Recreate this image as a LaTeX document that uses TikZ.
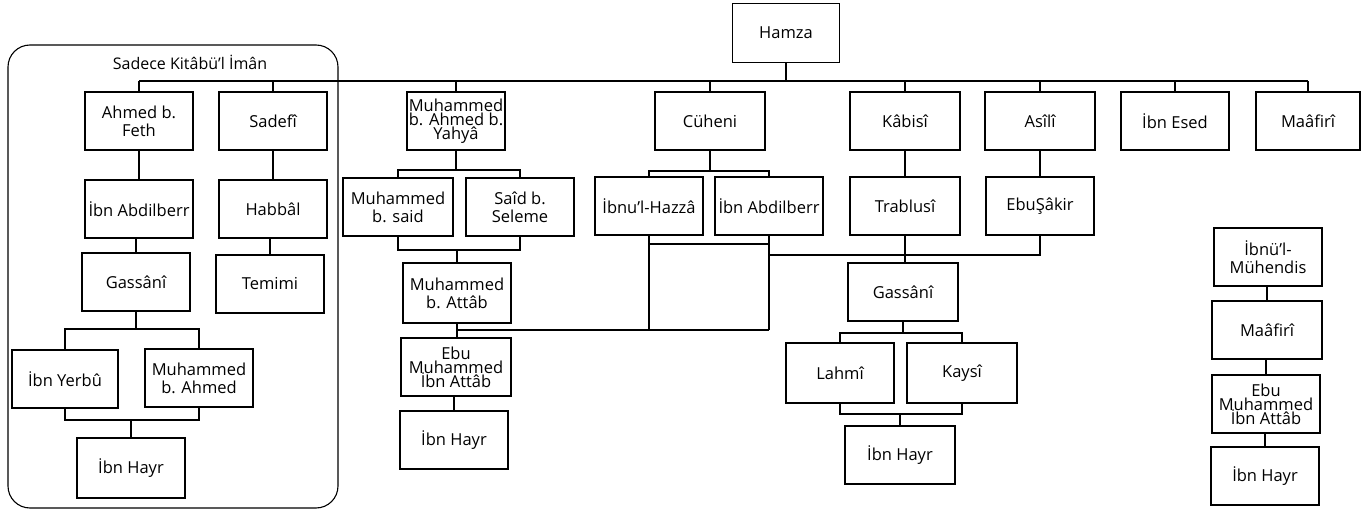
\documentclass[tikz,border=0pt]{standalone}
\usepackage{fontspec}
\setmainfont{Open Sans}
\usetikzlibrary{fit}
\begin{document}
\begin{tikzpicture}[x=1pt,y=-1pt,
  box/.style={draw,line width=1.1pt,minimum width=108pt,minimum height=58pt,inner sep=1pt,align=center,font=\fontsize{16.5}{18}\selectfont},
  ln/.style={line width=1.1pt}]
\useasboundingbox (0,0) rectangle (1363,513);
% container
\node[draw,line width=1.1pt,rounded corners=22pt,fit={(8,45) (338,508)},inner sep=0pt] (grp) {};
\node[font=\fontsize{16}{18}\selectfont] (title) at (190,62) {Sadece Kitâbü'l İmân};
% nodes
\node[box,minimum width=107pt,minimum height=59pt] (hamza) at (786,33) {Hamza};
\node[box] (feth) at (139,121) {Ahmed b.\\Feth};
\node[box] (sadefi) at (273,121) {Sadefî};
\node[box,minimum width=98pt] (yahya) at (456,121) {Muhammed\\[-4pt]b. Ahmed b.\\[-4pt]Yahyâ};
\node[box,minimum width=110pt] (cuheni) at (710,121) {Cüheni};
\node[box,minimum width=110pt] (kabisi) at (905,121) {Kâbisî};
\node[box,minimum width=110pt] (asili) at (1040,121) {Asîlî};
\node[box] (esed) at (1175,121) {İbn Esed};
\node[box,minimum width=104pt] (maafiri) at (1308,121) {Maâfirî};
\node[box] (abd1) at (139,209) {İbn Abdilberr};
\node[box] (habbal) at (273,209) {Habbâl};
\node[box] (gassani1) at (136,282) {Gassânî};
\node[box] (temimi) at (270,284) {Temimi};
\node[box,minimum width=106pt] (yerbu) at (65,379) {İbn Yerbû};
\node[box] (mba) at (199,378) {Muhammed\\b. Ahmed};
\node[box,minimum height=60pt] (hayr1) at (131,468) {İbn Hayr};
\node[box,minimum width=110pt] (msaid) at (398,207) {Muhammed\\b. said};
\node[box] (saeed) at (520,207) {Saîd b.\\Seleme};
\node[box,minimum height=60pt] (attab) at (457,293) {Muhammed\\b. Attâb};
\node[box,minimum width=110pt] (ebu1) at (456,367) {Ebu\\[-4pt]Muhammed\\[-4pt]İbn Attâb};
\node[box] (hayr2) at (454,440) {İbn Hayr};
\node[box] (hazza) at (649,206) {İbnu'l-Hazzâ};
\node[box] (abd2) at (769,206) {İbn Abdilberr};
\node[box,minimum width=110pt] (trablusi) at (905,206) {Trablusî};
\node[box] (sakir) at (1040,206) {EbuŞâkir};
\node[box,minimum width=110pt] (gassani2) at (903,292) {Gassânî};
\node[box,minimum height=60pt] (lahmi) at (840,373) {Lahmî};
\node[box,minimum width=110pt,minimum height=60pt] (kaysi) at (962,373) {Kaysî};
\node[box,minimum width=110pt] (hayr3) at (900,455) {İbn Hayr};
\node[box] (muhendis) at (1268,257) {İbnü'l-\\Mühendis};
\node[box,minimum width=110pt] (maafiri2) at (1267,330) {Maâfirî};
\node[box] (ebu2) at (1266,404) {Ebu\\[-4pt]Muhammed\\[-4pt]İbn Attâb};
\node[box] (hayr4) at (1265,476) {İbn Hayr};
% helper levels
\coordinate (bar) at (0,81);
\coordinate (f1) at (0,329);
\coordinate (j1) at (0,420);
\coordinate (f2) at (0,170);
\coordinate (j2) at (0,250);
\coordinate (link) at (0,330);
\coordinate (f3) at (0,171);
\coordinate (j3) at (0,244);
\coordinate (j4) at (0,255);
\coordinate (f4) at (0,333);
\coordinate (j5) at (0,414);
% main bar
\draw[ln] (hamza.south) -- (hamza.south |- bar);
\draw[ln] (feth.north |- bar) -- (maafiri.north |- bar);
\foreach \n in {feth,sadefi,yahya,cuheni,kabisi,asili,esed,maafiri}
  \draw[ln] (\n.north) -- (\n.north |- bar);
% left group
\draw[ln] (abd1.north) -- (abd1.north |- feth.south);
\draw[ln] (gassani1.north) -- (gassani1.north |- abd1.south);
\draw[ln] (habbal.north) -- (habbal.north |- sadefi.south);
\draw[ln] (temimi.north) -- (temimi.north |- habbal.south);
\draw[ln] (gassani1.south) -- (gassani1.south |- f1);
\draw[ln] (yerbu.north) -- (yerbu.north |- f1) -- (mba.north |- f1) -- (mba.north);
\draw[ln] (yerbu.south) -- (yerbu.south |- j1) -- (mba.south |- j1) -- (mba.south);
\draw[ln] (hayr1.north) -- (hayr1.north |- j1);
% Muhammed column
\draw[ln] (yahya.south) -- (yahya.south |- f2);
\draw[ln] (msaid.north) -- (msaid.north |- f2) -- (saeed.north |- f2) -- (saeed.north);
\draw[ln] (msaid.south) -- (msaid.south |- j2) -- (saeed.south |- j2) -- (saeed.south);
\draw[ln] (attab.north) -- (attab.north |- j2);
\draw[ln] (attab.south) -- (attab.south |- ebu1.north);
\draw[ln] (hayr2.north) -- (hayr2.north |- ebu1.south);
% Cuheni
\draw[ln] (cuheni.south) -- (cuheni.south |- f3);
\draw[ln] (hazza.north) -- (hazza.north |- f3) -- (abd2.north |- f3) -- (abd2.north);
\draw[ln] (hazza.south) -- (hazza.south |- link);
\draw[ln] (abd2.south) -- (abd2.south |- link);
\draw[ln] (hazza.south |- j3) -- (abd2.south |- j3);
\draw[ln] (attab.south |- link) -- (abd2.south |- link);
\draw[ln] (abd2.south |- j4) -- (sakir.south |- j4) -- (sakir.south);
% Kabisi
\draw[ln] (trablusi.north) -- (trablusi.north |- kabisi.south);
\draw[ln] (trablusi.south) -- (trablusi.south |- gassani2.north);
\draw[ln] (sakir.north) -- (sakir.north |- asili.south);
\draw[ln] (gassani2.south) -- (gassani2.south |- f4);
\draw[ln] (lahmi.north) -- (lahmi.north |- f4) -- (kaysi.north |- f4) -- (kaysi.north);
\draw[ln] (lahmi.south) -- (lahmi.south |- j5) -- (kaysi.south |- j5) -- (kaysi.south);
\draw[ln] (hayr3.north) -- (hayr3.north |- j5);
% right column
\draw[ln] (maafiri2.north) -- (maafiri2.north |- muhendis.south);
\draw[ln] (ebu2.north) -- (ebu2.north |- maafiri2.south);
\draw[ln] (hayr4.north) -- (hayr4.north |- ebu2.south);
\end{tikzpicture}
\end{document}
